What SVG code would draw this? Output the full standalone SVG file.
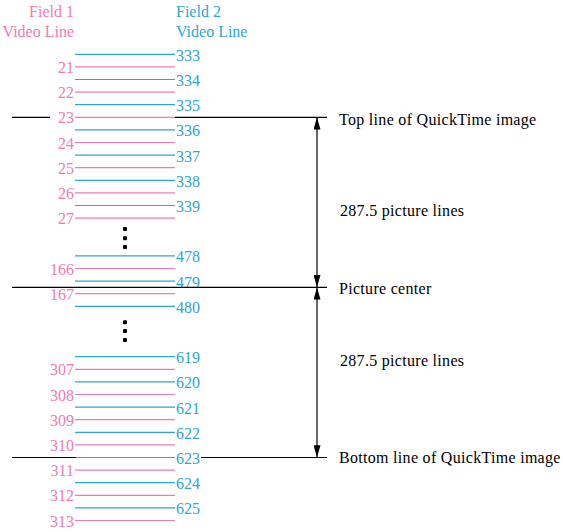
<svg xmlns="http://www.w3.org/2000/svg" width="563" height="532" viewBox="0 0 563 532">
<style>
text{font-family:"Liberation Serif","Times New Roman",serif;font-size:16px}
.p{fill:#f27ab4}
.b{fill:#2ca6d6}
.pl{stroke:#f27ab4;stroke-width:1.2}
.bl{stroke:#2ca6d6;stroke-width:1.2}
.k{stroke:#000;stroke-width:1.2;fill:none}
.pn{text-anchor:end}
.lab{fill:#000;letter-spacing:0.3px}
</style>
<defs>
<marker id="ah" markerUnits="userSpaceOnUse" markerWidth="12" markerHeight="7" refX="12" refY="3.5" orient="auto-start-reverse">
<path d="M0,0 L12,3.5 L0,7 z" fill="#000"/>
</marker>
</defs>
<rect width="563" height="532" fill="#fff"/>
<g id="headers">
<text class="p pn" x="74" y="17">Field 1</text>
<text class="p pn" x="74" y="37">Video Line</text>
<text class="b" x="176" y="17">Field 2</text>
<text class="b" x="176" y="37">Video Line</text>
</g>
<g id="field2-lines">
<line class="bl" x1="75" x2="175" y1="54.3" y2="54.3"/><text class="b" x="176" y="61">333</text>
<line class="bl" x1="75" x2="175" y1="79.5" y2="79.5"/><text class="b" x="176" y="86">334</text>
<line class="bl" x1="75" x2="175" y1="104.7" y2="104.7"/><text class="b" x="176" y="111">335</text>
<line class="bl" x1="75" x2="175" y1="129.9" y2="129.9"/><text class="b" x="176" y="136.4">336</text>
<line class="bl" x1="75" x2="175" y1="155.1" y2="155.1"/><text class="b" x="176" y="161.6">337</text>
<line class="bl" x1="75" x2="175" y1="180.3" y2="180.3"/><text class="b" x="176" y="186.8">338</text>
<line class="bl" x1="75" x2="175" y1="205.5" y2="205.5"/><text class="b" x="176" y="212">339</text>
<line class="bl" x1="75" x2="175" y1="255.9" y2="255.9"/><text class="b" x="176" y="262.4">478</text>
<line class="bl" x1="75" x2="175" y1="281.1" y2="281.1"/><text class="b" x="176" y="287.6">479</text>
<line class="bl" x1="75" x2="175" y1="306.3" y2="306.3"/><text class="b" x="176" y="312.8">480</text>
<line class="bl" x1="75" x2="175" y1="356.7" y2="356.7"/><text class="b" x="176" y="363.2">619</text>
<line class="bl" x1="75" x2="175" y1="381.9" y2="381.9"/><text class="b" x="176" y="388.4">620</text>
<line class="bl" x1="75" x2="175" y1="407.1" y2="407.1"/><text class="b" x="176" y="413.6">621</text>
<line class="bl" x1="75" x2="175" y1="432.3" y2="432.3"/><text class="b" x="176" y="438.8">622</text>
<line class="bl" x1="76" x2="175" y1="457.5" y2="457.5"/><text class="b" x="176" y="464">623</text>
<line class="bl" x1="75" x2="175" y1="482.7" y2="482.7"/><text class="b" x="176" y="489.2">624</text>
<line class="bl" x1="75" x2="175" y1="507.9" y2="507.9"/><text class="b" x="176" y="514.4">625</text>
</g>
<g id="field1-lines">
<line class="pl" x1="75" x2="175" y1="66.9" y2="66.9"/><text class="p pn" x="74" y="73">21</text>
<line class="pl" x1="75" x2="175" y1="92.1" y2="92.1"/><text class="p pn" x="74" y="98.2">22</text>
<line class="pl" x1="75" x2="175" y1="117.3" y2="117.3"/><text class="p pn" x="74" y="123.4">23</text>
<line class="pl" x1="75" x2="175" y1="142.5" y2="142.5"/><text class="p pn" x="74" y="148.6">24</text>
<line class="pl" x1="75" x2="175" y1="167.7" y2="167.7"/><text class="p pn" x="74" y="173.8">25</text>
<line class="pl" x1="75" x2="175" y1="192.9" y2="192.9"/><text class="p pn" x="74" y="199">26</text>
<line class="pl" x1="75" x2="175" y1="218.1" y2="218.1"/><text class="p pn" x="74" y="224.2">27</text>
<line class="pl" x1="75" x2="175" y1="268.5" y2="268.5"/><text class="p pn" x="74" y="274.6">166</text>
<line class="pl" x1="75" x2="175" y1="293.7" y2="293.7"/><text class="p pn" x="74" y="299.8">167</text>
<line class="pl" x1="75" x2="175" y1="369.3" y2="369.3"/><text class="p pn" x="74" y="375.4">307</text>
<line class="pl" x1="75" x2="175" y1="394.5" y2="394.5"/><text class="p pn" x="74" y="400.6">308</text>
<line class="pl" x1="75" x2="175" y1="419.7" y2="419.7"/><text class="p pn" x="74" y="425.8">309</text>
<line class="pl" x1="75" x2="175" y1="444.9" y2="444.9"/><text class="p pn" x="74" y="451">310</text>
<line class="pl" x1="75" x2="175" y1="470.1" y2="470.1"/><text class="p pn" x="74" y="476.2">311</text>
<line class="pl" x1="75" x2="175" y1="495.3" y2="495.3"/><text class="p pn" x="74" y="501.4">312</text>
<line class="pl" x1="75" x2="175" y1="520.5" y2="520.5"/><text class="p pn" x="74" y="526.6">313</text>
</g>
<g id="ellipsis">
<rect x="123" y="227" width="4" height="4" rx="1"/>
<rect x="123" y="236.3" width="4" height="4" rx="1"/>
<rect x="123" y="245" width="4" height="4" rx="1"/>
<rect x="123" y="320.3" width="4" height="4" rx="1"/>
<rect x="123" y="329" width="4" height="4" rx="1"/>
<rect x="123" y="338" width="4" height="4" rx="1"/>
</g>
<g id="reference-lines">
<line class="k" x1="12" x2="50" y1="117.3" y2="117.3"/>
<line class="k" x1="175" x2="327" y1="117.3" y2="117.3"/>
<line class="k" x1="12" x2="327" y1="287.3" y2="287.3"/>
<line class="k" x1="12" x2="76" y1="457.5" y2="457.5"/>
<line class="k" x1="201" x2="327" y1="457.5" y2="457.5"/>
</g>
<g id="connectors">
<line class="k" x1="317" y1="117.5" x2="317" y2="287" marker-start="url(#ah)" marker-end="url(#ah)"/>
<line class="k" x1="317" y1="287.6" x2="317" y2="457.3" marker-start="url(#ah)" marker-end="url(#ah)"/>
</g>
<g id="labels">
<text class="lab" x="339" y="125">Top line of QuickTime image</text>
<text class="lab" x="340" y="216">287.5 picture lines</text>
<text class="lab" x="339" y="294">Picture center</text>
<text class="lab" x="340" y="366">287.5 picture lines</text>
<text class="lab" x="339" y="463">Bottom line of QuickTime image</text>
</g>
</svg>
